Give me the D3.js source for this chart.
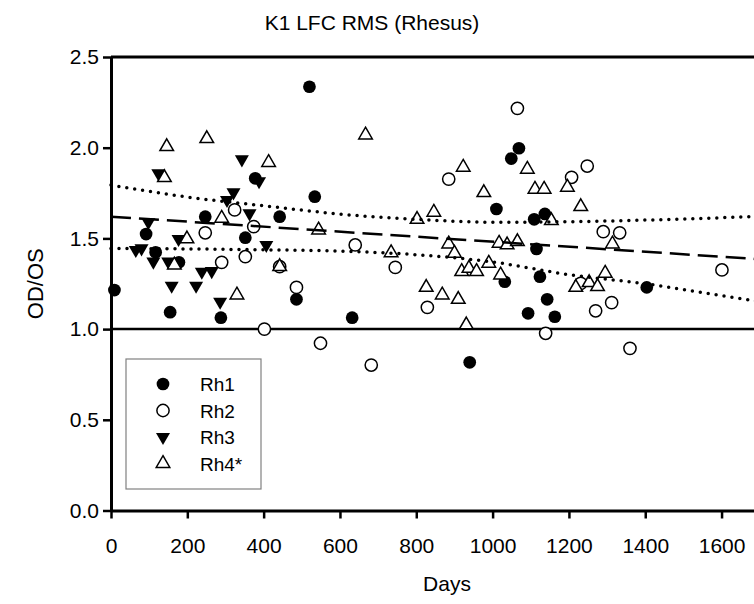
<!DOCTYPE html>
<html>
<head>
<meta charset="utf-8">
<script src="https://cdn.jsdelivr.net/npm/d3@7"></script>
<style>
  body { margin: 0; background: #fff; }
  text { font-family: "Liberation Sans", Arial, sans-serif; fill: #000; }
</style>
</head>
<body>
<div id="chart"></div>
<script>
// values: [days, OD/OS]
const rh1 = [[9,1.215],[92,1.524],[117,1.423],[155,1.093],[178,1.368],[247,1.62],[288,1.063],[352,1.504],[378,1.831],[442,1.62],[486,1.164],[520,2.336],[534,1.73],[632,1.063],[940,0.817],[1010,1.662],[1032,1.261],[1049,1.94],[1069,1.997],[1093,1.087],[1109,1.605],[1115,1.442],[1124,1.289],[1137,1.635],[1143,1.164],[1163,1.068],[1404,1.23]];
const rh2 = [[247,1.531],[290,1.368],[324,1.657],[352,1.399],[374,1.565],[402,1.0],[442,1.344],[486,1.23],[549,0.922],[640,1.464],[682,0.802],[745,1.34],[829,1.12],[885,1.827],[1065,2.217],[1139,0.977],[1207,1.837],[1231,1.252],[1248,1.899],[1270,1.101],[1290,1.537],[1312,1.146],[1333,1.531],[1360,0.894],[1601,1.326]];
const rh3 = [[65,1.436],[80,1.445],[98,1.589],[111,1.372],[124,1.859],[150,1.372],[159,1.239],[177,1.497],[223,1.239],[238,1.316],[264,1.32],[286,1.151],[304,1.712],[321,1.754],[343,1.936],[363,1.638],[388,1.815],[407,1.464]];
const rh4 = [[140,1.835],[146,2.006],[166,1.353],[199,1.497],[251,2.05],[290,1.611],[330,1.188],[413,1.918],[442,1.344],[544,1.546],[667,2.07],[734,1.421],[802,1.605],[826,1.23],[846,1.644],[868,1.188],[885,1.469],[900,1.418],[910,1.164],[919,1.317],[923,1.892],[931,1.023],[938,1.335],[958,1.317],[977,1.752],[990,1.363],[1017,1.473],[1021,1.298],[1038,1.464],[1065,1.482],[1091,1.881],[1111,1.771],[1135,1.771],[1154,1.598],[1196,1.782],[1218,1.23],[1231,1.675],[1253,1.256],[1275,1.234],[1295,1.308],[1314,1.469]];

const seriesNames = ['Rh1', 'Rh2', 'Rh3', 'Rh4*'];
const xTicks = [0, 200, 400, 600, 800, 1000, 1200, 1400, 1600];
const yTicks = [0.0, 0.5, 1.0, 1.5, 2.0, 2.5];

// regression line and its confidence band
const fitDays = [0, 1700];
const fitValues = [1.62, 1.385];
const bandDays = [0, 200, 400, 600, 800, 1000, 1200, 1400, 1600, 1700];
const upperBand = [1.794, 1.728, 1.68, 1.634, 1.605, 1.589, 1.592, 1.601, 1.614, 1.622];
const lowerBand = [1.445, 1.442, 1.437, 1.43, 1.41, 1.37, 1.30, 1.25, 1.185, 1.152];

const refLine = 1.0;

const width = 754, height = 604;
const plot = {left: 111, top: 57, bottom: 510.5, right: 111 + 1800 * 0.3816};

const svg = d3.select('#chart').append('svg')
  .attr('width', width)
  .attr('height', height);

const x = d3.scaleLinear().domain([0, 1800]).range([plot.left, plot.right]);
const y = d3.scaleLinear().domain([0, 2.5]).range([plot.bottom, plot.top]);

// symbols
const styles = [
  {type: d3.symbolCircle, size: 127, fill: '#000', stroke: 'none', rotate: 0},
  {type: d3.symbolCircle, size: 118, fill: '#fff', stroke: '#000', rotate: 0},
  {type: d3.symbolTriangle, size: 85, fill: '#000', stroke: 'none', rotate: 180},
  {type: d3.symbolTriangle, size: 80, fill: '#fff', stroke: '#000', rotate: 0}
];
const allSeries = [rh1, rh2, rh3, rh4];

// top frame line
svg.append('line')
  .attr('x1', plot.left).attr('x2', plot.right)
  .attr('y1', y(2.5)).attr('y2', y(2.5))
  .attr('stroke', '#000').attr('stroke-width', 3);

// y = 1 reference
svg.append('line')
  .attr('x1', plot.left).attr('x2', plot.right)
  .attr('y1', y(refLine)).attr('y2', y(refLine))
  .attr('stroke', '#000').attr('stroke-width', 2.5);

// points
allSeries.forEach((data, i) => {
  const s = styles[i];
  svg.append('g').selectAll('path')
    .data(data)
    .enter().append('path')
    .attr('d', d3.symbol().type(s.type).size(s.size))
    .attr('transform', d => `translate(${x(d[0])},${y(d[1])}) rotate(${s.rotate})`)
    .attr('fill', s.fill)
    .attr('stroke', s.stroke)
    .attr('stroke-width', 1.5);
});

// regression line
svg.append('path')
  .datum(d3.zip(fitDays, fitValues))
  .attr('fill', 'none')
  .attr('stroke', '#000')
  .attr('stroke-width', 2.5)
  .attr('stroke-dasharray', '20 8')
  .attr('d', d3.line().x(d => x(d[0])).y(d => y(d[1])));

// confidence band
[upperBand, lowerBand].forEach(band => {
  svg.append('path')
    .datum(d3.zip(bandDays, band))
    .attr('fill', 'none')
    .attr('stroke', '#000')
    .attr('stroke-width', 3.5)
    .attr('stroke-linecap', 'round')
    .attr('stroke-dasharray', '0 8')
    .attr('d', d3.line().curve(d3.curveMonotoneX).x(d => x(d[0])).y(d => y(d[1])));
});

// axes
const xAxis = svg.append('g')
  .attr('transform', `translate(0,${plot.bottom})`)
  .call(d3.axisBottom(x).tickValues(xTicks).tickFormat(d3.format('d')).tickSize(8).tickSizeOuter(0).tickPadding(20));
const yAxis = svg.append('g')
  .attr('transform', `translate(${plot.left},0)`)
  .call(d3.axisLeft(y).tickValues(yTicks).tickFormat(d3.format('.1f')).tickSize(8).tickSizeOuter(0).tickPadding(4));

[xAxis, yAxis].forEach(g => {
  g.select('.domain').attr('stroke-width', 3);
  g.selectAll('.tick line').attr('stroke-width', 2.5);
  g.selectAll('.tick text')
    .style('font-family', '"Liberation Sans", Arial, sans-serif')
    .style('font-size', '21px');
});

// titles
svg.append('text')
  .attr('x', 372).attr('y', 30)
  .attr('text-anchor', 'middle')
  .style('font-size', '21px')
  .text('K1 LFC RMS (Rhesus)');

svg.append('text')
  .attr('x', 447).attr('y', 591)
  .attr('text-anchor', 'middle')
  .style('font-size', '21px')
  .text('Days');

svg.append('text')
  .attr('transform', `translate(43,${(plot.top + plot.bottom) / 2}) rotate(-90)`)
  .attr('text-anchor', 'middle')
  .style('font-size', '22px')
  .text('OD/OS');

// legend
const legend = svg.append('g').attr('transform', 'translate(126,359)');
legend.append('rect')
  .attr('width', 135).attr('height', 130)
  .attr('fill', '#fff')
  .attr('stroke', '#808080')
  .attr('stroke-width', 1.2);

seriesNames.forEach((name, i) => {
  const s = styles[i];
  const row = legend.append('g').attr('transform', `translate(0,${25 + i * 26.5})`);
  row.append('path')
    .attr('d', d3.symbol().type(s.type).size(s.size))
    .attr('transform', `translate(37,0) rotate(${s.rotate})`)
    .attr('fill', s.fill)
    .attr('stroke', s.stroke)
    .attr('stroke-width', 1.5);
  row.append('text')
    .attr('x', 74).attr('y', 7)
    .style('font-size', '19px')
    .text(name);
});
</script>
</body>
</html>
